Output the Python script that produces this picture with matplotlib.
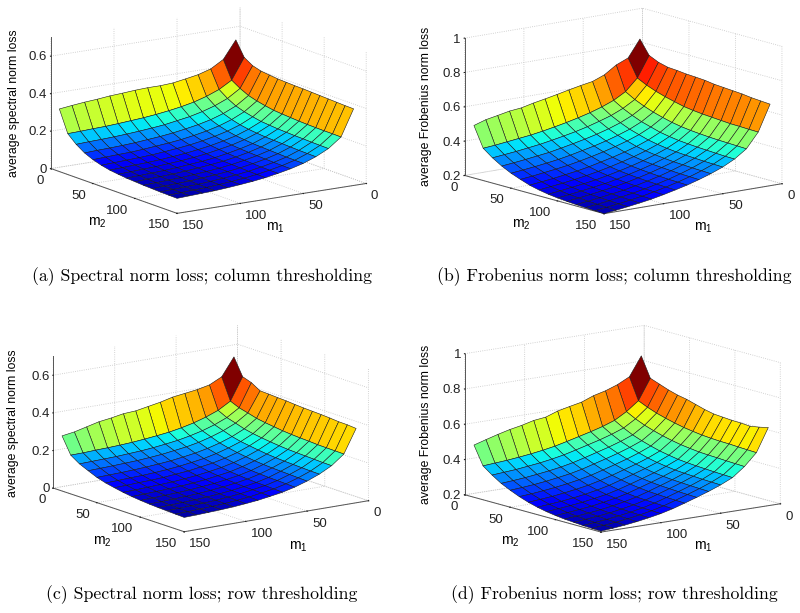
import numpy as np
import matplotlib
matplotlib.use("Agg")
import matplotlib.pyplot as plt

plt.rcParams['font.family'] = ['Liberation Sans', 'DejaVu Sans']
plt.rcParams['mathtext.default'] = 'regular'

# grid of the surfaces, rows are m2 and columns are m1
m1 = [10, 20, 30, 40, 50, 60, 70, 80, 90, 100, 110, 120, 130, 140, 150]
m2 = [10, 20, 30, 40, 50, 60, 70, 80, 90, 100, 110, 120, 130, 140, 150]
side_ticks = [0, 50, 100, 150]

# (a) spectral norm, column thresholding
spec_col = [
    [.554, .460, .420, .400, .388, .377, .373, .373, .370, .365, .361, .354, .349, .342, .334],
    [.476, .365, .326, .300, .280, .266, .255, .246, .239, .234, .229, .225, .223, .220, .218],
    [.448, .337, .294, .266, .245, .229, .218, .207, .200, .194, .189, .185, .182, .180, .177],
    [.435, .315, .270, .240, .218, .202, .190, .179, .171, .165, .159, .155, .152, .150, .147],
    [.430, .302, .255, .224, .201, .184, .171, .160, .152, .146, .140, .135, .133, .130, .127],
    [.425, .292, .244, .212, .189, .172, .158, .147, .139, .132, .126, .122, .119, .116, .113],
    [.423, .284, .235, .204, .180, .163, .149, .138, .129, .122, .116, .112, .109, .106, .103],
    [.421, .280, .231, .199, .175, .157, .144, .132, .123, .116, .111, .106, .103, .100, .097],
    [.420, .277, .227, .195, .170, .153, .139, .127, .118, .112, .106, .101, .098, .095, .092],
    [.418, .274, .225, .193, .168, .150, .136, .124, .116, .109, .103, .098, .095, .092, .089],
    [.416, .272, .223, .191, .166, .148, .134, .122, .113, .106, .100, .095, .092, .089, .086],
    [.414, .271, .222, .189, .164, .146, .132, .120, .111, .104, .098, .093, .090, .087, .084],
    [.412, .270, .220, .187, .162, .144, .130, .118, .109, .102, .096, .091, .088, .085, .082],
    [.410, .270, .219, .186, .161, .143, .129, .117, .108, .101, .095, .090, .087, .084, .081],
    [.409, .269, .218, .185, .160, .142, .128, .116, .107, .100, .094, .089, .086, .083, .080],
]

# (b) Frobenius norm, column thresholding
frob_col = [
    [.847, .748, .719, .673, .646, .634, .620, .605, .591, .578, .562, .555, .541, .528, .506],
    [.766, .646, .578, .539, .512, .490, .472, .456, .442, .429, .418, .410, .402, .394, .388],
    [.741, .619, .547, .507, .477, .455, .435, .418, .404, .391, .379, .370, .361, .354, .347],
    [.727, .598, .523, .481, .450, .426, .406, .389, .374, .360, .347, .338, .329, .321, .314],
    [.723, .581, .503, .459, .427, .403, .382, .364, .349, .334, .321, .311, .302, .294, .287],
    [.717, .567, .487, .443, .410, .385, .364, .345, .329, .314, .301, .291, .282, .273, .266],
    [.714, .554, .473, .427, .394, .368, .347, .328, .312, .296, .283, .273, .263, .255, .247],
    [.710, .546, .463, .417, .383, .357, .335, .316, .299, .284, .271, .260, .250, .242, .234],
    [.702, .540, .456, .409, .375, .349, .326, .307, .290, .275, .261, .250, .241, .232, .224],
    [.698, .536, .451, .404, .369, .343, .320, .301, .284, .268, .254, .244, .234, .225, .217],
    [.694, .532, .447, .400, .365, .338, .316, .296, .279, .263, .250, .239, .229, .220, .212],
    [.690, .528, .444, .397, .362, .335, .312, .292, .275, .259, .245, .235, .225, .216, .208],
    [.683, .527, .442, .394, .359, .332, .309, .289, .272, .256, .243, .232, .222, .213, .205],
    [.679, .525, .440, .391, .357, .330, .307, .287, .270, .254, .240, .229, .219, .210, .202],
    [.675, .524, .438, .390, .355, .328, .305, .285, .268, .252, .238, .227, .217, .208, .200],
]

# (c) spectral norm, row thresholding
spec_row = [
    [.559, .464, .432, .418, .409, .400, .384, .372, .360, .356, .344, .335, .319, .303, .293],
    [.469, .350, .312, .287, .267, .252, .240, .232, .225, .219, .215, .212, .210, .207, .206],
    [.453, .330, .289, .262, .241, .225, .212, .203, .195, .189, .185, .181, .179, .177, .175],
    [.425, .318, .275, .246, .224, .206, .193, .184, .175, .169, .164, .161, .158, .156, .154],
    [.423, .305, .260, .230, .207, .189, .175, .165, .156, .150, .145, .141, .138, .136, .134],
    [.420, .297, .250, .219, .196, .177, .162, .152, .143, .136, .131, .127, .125, .122, .120],
    [.418, .291, .243, .212, .187, .168, .153, .143, .133, .127, .121, .117, .115, .112, .110],
    [.414, .285, .237, .205, .180, .160, .145, .134, .125, .118, .112, .109, .106, .103, .101],
    [.411, .281, .232, .199, .174, .154, .138, .128, .118, .111, .106, .102, .099, .096, .094],
    [.409, .278, .228, .195, .170, .149, .134, .123, .113, .107, .101, .097, .094, .091, .089],
    [.407, .276, .226, .192, .167, .146, .130, .119, .110, .103, .097, .093, .090, .087, .085],
    [.404, .273, .224, .190, .165, .143, .127, .116, .107, .100, .094, .090, .087, .084, .082],
    [.400, .272, .222, .188, .163, .142, .126, .115, .105, .098, .092, .088, .085, .082, .080],
    [.399, .271, .220, .186, .161, .140, .124, .113, .103, .096, .090, .086, .083, .080, .078],
    [.395, .270, .219, .185, .159, .138, .122, .111, .101, .094, .088, .084, .081, .078, .076],
]

# (d) Frobenius norm, row thresholding
frob_row = [
    [.852, .744, .710, .686, .669, .643, .629, .614, .590, .582, .565, .552, .535, .516, .496],
    [.739, .622, .571, .532, .508, .489, .472, .455, .439, .427, .417, .409, .402, .397, .392],
    [.720, .599, .544, .503, .478, .457, .439, .421, .404, .391, .380, .372, .364, .359, .354],
    [.701, .580, .522, .478, .452, .430, .411, .392, .374, .360, .349, .340, .332, .326, .321],
    [.686, .565, .505, .459, .432, .409, .389, .370, .351, .336, .325, .315, .307, .301, .296],
    [.676, .552, .490, .443, .415, .391, .370, .350, .331, .316, .304, .294, .286, .279, .274],
    [.661, .541, .478, .429, .400, .376, .355, .334, .315, .299, .287, .277, .268, .262, .256],
    [.646, .533, .468, .419, .389, .365, .343, .322, .302, .286, .273, .263, .254, .248, .242],
    [.635, .526, .461, .410, .381, .355, .333, .312, .292, .275, .263, .252, .244, .237, .231],
    [.631, .522, .455, .405, .374, .349, .326, .305, .284, .268, .255, .244, .236, .229, .223],
    [.627, .519, .452, .401, .370, .344, .321, .299, .278, .262, .249, .238, .230, .223, .217],
    [.626, .518, .450, .398, .367, .341, .318, .296, .275, .258, .245, .234, .226, .219, .213],
    [.622, .515, .447, .395, .364, .338, .315, .293, .272, .255, .242, .231, .222, .215, .209],
    [.631, .513, .445, .393, .362, .336, .313, .291, .270, .253, .240, .229, .220, .213, .207],
    [.643, .511, .443, .391, .360, .334, .311, .289, .268, .251, .238, .227, .218, .211, .205],
]

spec_ticks = [0, 0.2, 0.4, 0.6]
spec_labels = ['0', '0.2', '0.4', '0.6']
frob_ticks = [0.2, 0.4, 0.6, 0.8, 1]
frob_labels = ['0.2', '0.4', '0.6', '0.8', '1']

captions = ['(a) Spectral norm loss; column thresholding',
            '(b) Frobenius norm loss; column thresholding',
            '(c) Spectral norm loss; row thresholding',
            '(d) Frobenius norm loss; row thresholding']
zlabels = ['average spectral norm loss', 'average Frobenius norm loss',
           'average spectral norm loss', 'average Frobenius norm loss']

W_PX, H_PX = 800, 613


def px_text(fig, x, y, s, **kw):
    return fig.text(x / W_PX, 1 - y / H_PX, s, ha='center', va='center', **kw)


def panel(fig, Z, zlim, zticks, zticklabels, cx, cy, size, elev, azim, zaspect):
    pos = [(cx - size / 2) / W_PX, 1 - (cy + size / 2) / H_PX, size / W_PX, size / H_PX]
    ax = fig.add_axes(pos, projection='3d', proj_type='ortho')
    ax.view_init(elev=elev, azim=azim)
    ax.set_box_aspect((1, 1, zaspect))
    ax.patch.set_alpha(0)

    X, Y = np.meshgrid(m1, m2)
    Z = np.array(Z)
    # a bit below the minimum, the blues of the original are lighter
    norm = plt.Normalize(Z.min() - 0.03 * (Z.max() - Z.min()), Z.max())
    surf = ax.plot_surface(X, Y, Z, rstride=1, cstride=1, facecolors=plt.cm.jet(norm(Z)), shade=False)
    surf.set_edgecolor('#1a1a1a')
    surf.set_linewidth(0.4)

    ax.set_xlim(0, 150, view_margin=0)
    ax.set_ylim(0, 150, view_margin=0)
    ax.set_zlim(zlim[0], zlim[1], view_margin=0)
    ax.set_xticks(side_ticks)
    ax.set_yticks(side_ticks)
    ax.set_zticks(zticks)
    ax.set_zticklabels(zticklabels)

    for axis in (ax.xaxis, ax.yaxis, ax.zaxis):
        axis.set_pane_color((1, 1, 1, 0))
        axis.pane.set_edgecolor((1, 1, 1, 0))
        axis.line.set_color('#555555')
        axis.line.set_linewidth(0.7)
        axis._axinfo['grid'].update(color='#c4c4c4', linestyle=':', linewidth=0.6)
        axis._axinfo['tick'].update(inward_factor=0.03, outward_factor=0.0)
    ax.tick_params(axis='both', labelsize=9.5, colors='#222222', pad=-3.2)
    ax.tick_params(axis='z', labelsize=9.5, pad=-6.5)
    plt.setp(ax.get_xticklabels(), ha='left')
    plt.setp(ax.get_yticklabels(), ha='right')
    plt.setp(ax.get_zticklabels(), ha='right', va='center_baseline')
    return ax


fig = plt.figure(figsize=(8, 6.13), dpi=100)

panel(fig, spec_col, (0, 0.7), spec_ticks, spec_labels, 204, 115, 338.5, 13.7, 56.3, 0.594)
panel(fig, frob_col, (0.2, 1), frob_ticks, frob_labels, 618.7, 115.5, 339, 12.4, 51.9, 0.622)
panel(fig, spec_row, (0, 0.7), spec_ticks, spec_labels, 206.3, 433.1, 337, 13.7, 54.6, 0.6)
panel(fig, frob_row, (0.2, 1), frob_ticks, frob_labels, 618, 433.3, 339.3, 12, 52.8, 0.641)

# axis titles sit apart from the axes in the original
px_text(fig, 14, 103, zlabels[0], fontsize=8.8, rotation=90)
px_text(fig, 426, 106, zlabels[1], fontsize=8.8, rotation=90)
px_text(fig, 13, 423, zlabels[2], fontsize=8.8, rotation=90)
px_text(fig, 426, 424, zlabels[3], fontsize=8.8, rotation=90)

for x, y, s in [(275, 228, 'm$_1$'), (97, 223, 'm$_2$'), (703, 228, 'm$_1$'), (521, 225, 'm$_2$'),
                (298, 547, 'm$_1$'), (102, 542, 'm$_2$'), (703, 547, 'm$_1$'), (510, 542, 'm$_2$')]:
    px_text(fig, x, y, s, fontsize=10)

px_text(fig, 202, 277, captions[0], family='cmr10', fontsize=12.75)
px_text(fig, 614, 277, captions[1], family='cmr10', fontsize=12.75)
px_text(fig, 202, 595, captions[2], family='cmr10', fontsize=12.75)
px_text(fig, 614, 595, captions[3], family='cmr10', fontsize=12.75)

fig.savefig('out.png', dpi=100)
